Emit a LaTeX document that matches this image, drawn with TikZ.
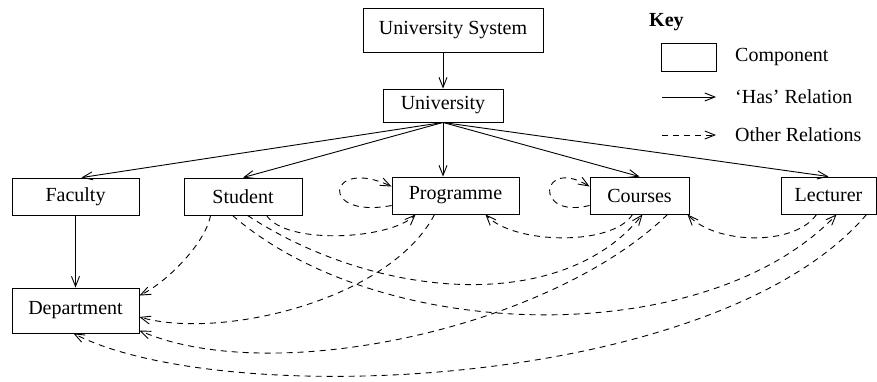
\documentclass[tikz,border=0pt]{standalone}
\usepackage{fontspec}
\setmainfont{Liberation Serif}
\usetikzlibrary{arrows.meta,calc}
\begin{document}
\begin{tikzpicture}[x=1pt,y=-1pt,
  comp/.style={draw, line width=0.9pt, inner sep=2pt, font=\fontsize{20}{24}\selectfont},
  has/.style={line width=0.9pt, -{Straight Barb[length=10pt,width=8pt]}},
  oth/.style={has, dash pattern=on 6pt off 5pt},
  lbl/.style={font=\fontsize{20}{24}\selectfont, inner sep=0pt}]
\useasboundingbox (0,0) rectangle (877,381);

\node[comp, minimum width=180pt, minimum height=44pt] (us) at (453,30) {University System};
\node[comp, minimum width=120pt, minimum height=33pt] (uni) at (443,105.5) {University};
\node[comp, minimum width=127pt, minimum height=37pt] (fac) at (75.5,196.5) {Faculty};
\node[comp, minimum width=118pt, minimum height=37pt] (stu) at (243,196.5) {Student};
\node[comp, minimum width=127pt, minimum height=37pt] (prog) at (455.5,195.5) {Programme};
\node[comp, minimum width=99pt, minimum height=37pt] (cou) at (639.5,195.5) {Courses};
\node[comp, minimum width=95pt, minimum height=37pt] (lec) at (828.5,195.5) {Lecturer};
\node[comp, minimum width=127pt, minimum height=45pt] (dep) at (75.5,310.5) {Department};

% 'Has' relations
\draw[has] (us.south -| uni.north) -- (uni.north);
\draw[has] (uni.south) -- ($(fac.north)+(6,0)$);
\draw[has] (uni.south) -- (stu.north);
\draw[has] (uni.south) -- (uni.south |- prog.north);
\draw[has] (uni.south) -- (cou.north);
\draw[has] (uni.south) -- (lec.north);
\draw[has] (fac.south) -- (dep.north);

% other relations
\draw[oth] ($(stu.south west)+(27,0)$) .. controls +(-6,30) and +(25,-12) .. ($(dep.north east)+(0,8)$);
\draw[oth] ($(stu.south west)+(83,0)$) .. controls +(20,30) and +(-25,25) .. ($(prog.south west)+(24,0)$);
\draw[oth] ($(stu.south west)+(64,0)$) .. controls +(130,85) and +(-80,100) .. ($(cou.south west)+(53,0)$);
\draw[oth] ($(stu.south west)+(49,0)$) .. controls +(150,130) and +(-130,136) .. ($(lec.south west)+(56,0)$);
\draw[oth] ($(prog.south west)+(43,0)$) .. controls +(-45,86) and +(81,23) .. ($(dep.east)+(0,6.5)$);
\draw[oth] ($(cou.south west)+(78,0)$) .. controls +(-120,116) and +(130,57) .. ($(dep.east)+(0,20)$);
\draw[oth] ($(lec.south west)+(86,0)$) .. controls +(-150,176) and +(150,77) .. ($(dep.south)+(-2,0)$);
\draw[oth] ($(cou.south west)+(43,0)$) .. controls +(-20,32) and +(28,30) .. ($(prog.south east)+(-34,0)$);
\draw[oth] ($(lec.south west)+(36,0)$) .. controls +(-22,32) and +(28,30) .. ($(cou.south east)+(-2,0)$);
\draw[oth] ($(prog.west)+(0,10)$) .. controls +(-74,14) and +(-64,-30) .. ($(prog.west)+(0,-9)$);
\draw[oth] ($(cou.west)+(0,10)$) .. controls +(-57,14) and +(-49,-30) .. ($(cou.west)+(0,-9)$);

% key
\node[font=\bfseries\fontsize{20}{24}\selectfont, anchor=west, inner sep=0pt] (key) at (649,22) {Key};
\node[draw, line width=0.9pt, minimum width=55pt, minimum height=28pt, inner sep=0pt] (kbox) at (688.5,57) {};
\node[lbl, anchor=west] (kcomp) at (735,57) {Component};
\coordinate (ha) at (662,97);
\coordinate (hb) at (716,97);
\draw[has] (ha) -- (hb);
\node[lbl, anchor=west] (khas) at (735,97) {‘Has’ Relation};
\coordinate (oa) at (662,135);
\coordinate (ob) at (716,135);
\draw[oth] (oa) -- (ob);
\node[lbl, anchor=west] (koth) at (735,135) {Other Relations};
\end{tikzpicture}
\end{document}
